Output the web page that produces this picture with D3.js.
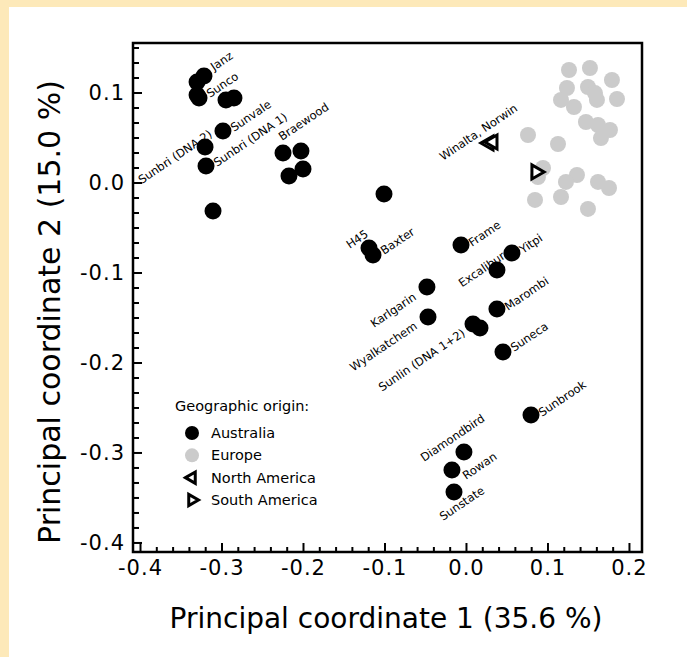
<!DOCTYPE html>
<html>
<head>
<meta charset="utf-8">
<script src="https://cdn.jsdelivr.net/npm/d3@7"></script>
<style>
  body { margin: 0; background: #fff; }
  svg { display: block; font-family: "DejaVu Sans", Verdana, sans-serif; }
</style>
</head>
<body>
<svg id="chart" width="687" height="657"></svg>
<script>
// Australian cultivars (name is "" when unlabelled)
const ausNames = ["Janz", "", "Sunco", "", "", "", "Sunvale", "Sunbri (DNA 2)", "Sunbri (DNA 1)", "",
  "Braewood", "", "", "", "", "H45", "Baxter", "Frame", "Yitpi", "Excalibur",
  "Karlgarin", "Wyalkatchem", "Sunlin (DNA 1+2)", "", "Marombi", "Suneca", "Sunbrook", "Diamondbird", "Rowan", "Sunstate"];
const ausX = [-0.3215, -0.330, -0.3276, -0.330, -0.2945, -0.2847, -0.2982, -0.3202, -0.319, -0.3104,
  -0.2245, -0.2025, -0.2172, -0.200, -0.1006, -0.119, -0.1141, -0.0061, 0.0564, 0.038,
  -0.0479, -0.0466, 0.0086, 0.0172, 0.038, 0.0454, 0.0798, -0.0025, -0.0172, -0.0147];
const ausY = [0.1183, 0.1117, 0.0939, 0.0972, 0.0917, 0.0939, 0.0572, 0.0394, 0.0183, -0.0317,
  0.0328, 0.035, 0.0072, 0.015, -0.0128, -0.0728, -0.0806, -0.0694, -0.0783, -0.0972,
  -0.1161, -0.1494, -0.1572, -0.1617, -0.1406, -0.1883, -0.2583, -0.2994, -0.3194, -0.3439];

const eurX = [0.1264, 0.1521, 0.1791, 0.1239, 0.1497, 0.1166, 0.1325, 0.1583, 0.1607, 0.1853,
  0.1472, 0.162, 0.1767, 0.1656, 0.0761, 0.1129, 0.0945, 0.0883, 0.1362, 0.1227,
  0.162, 0.1755, 0.0847, 0.1166, 0.1497];
const eurY = [0.125, 0.1272, 0.1139, 0.105, 0.1061, 0.0917, 0.0839, 0.0994, 0.0917, 0.0928,
  0.0672, 0.0639, 0.0583, 0.0494, 0.0528, 0.0428, 0.0161, 0.0061, 0.0083, 0.0006,
  0.0006, -0.0061, -0.0194, -0.0161, -0.0294];

const naNames = ["Winalta, Norwin", ""];
const naX = [0.0282, 0.0331];
const naY = [0.0439, 0.045];

const saX = [0.0859];
const saY = [0.0117];

const xTicks = [-0.4, -0.3, -0.2, -0.1, 0.0, 0.1, 0.2];
const yTicks = [0.1, 0.0, -0.1, -0.2, -0.3, -0.4];
const legendLabels = ["Australia", "Europe", "North America", "South America"];

// label placement: [dx, dy, anchor] from the point centre
const labelPos = {
  "Janz": [10, -5, "start"],
  "Sunco": [11, 0, "start"],
  "Sunvale": [11, 1, "start"],
  "Sunbri (DNA 2)": [8, -11, "end"],
  "Sunbri (DNA 1)": [11, 1, "start"],
  "Braewood": [-1, -12, "start"],
  "H45": [0, -12, "end"],
  "Baxter": [11, 0, "start"],
  "Frame": [11, 2, "start"],
  "Yitpi": [11, 1, "start"],
  "Excalibur": [9, -12, "end"],
  "Karlgarin": [-10, 12, "end"],
  "Wyalkatchem": [-10, 11, "end"],
  "Sunlin (DNA 1+2)": [-7, 11, "end"],
  "Marombi": [11, 2, "start"],
  "Suneca": [11, 0, "start"],
  "Sunbrook": [11, 2, "start"],
  "Diamondbird": [-40, 10, "start"],
  "Rowan": [14, 10, "start"],
  "Sunstate": [-11, 29, "start"],
  "Winalta, Norwin": [-46, 18, "start"]
};

const svg = d3.select('#chart');
svg.append('rect').attr('width', 687).attr('height', 657).attr('fill', '#fde9b9');
svg.append('rect').attr('x', 9).attr('y', 7).attr('width', 678).attr('height', 650).attr('fill', '#fff');

const x = d3.scaleLinear().domain([-0.4086, 0.216]).range([133, 642]);
const y = d3.scaleLinear().domain([0.155, -0.4106]).range([43, 552]);

const minorX = d3.range(-20, 11).map(i => i * 0.02).filter(v => xTicks.every(t => Math.abs(t - v) > 1e-6));
const minorY = d3.range(-24, 10).map(i => i / 60).filter(v => yTicks.every(t => Math.abs(t - v) > 1e-6));

const fmt = d => d3.format('.1f')(d).replace('−', '-');

// minor ticks
svg.append('g').attr('transform', 'translate(0,552)')
  .call(d3.axisBottom(x).tickValues(minorX).tickSize(-5).tickFormat(''))
  .call(g => g.select('.domain').remove())
  .selectAll('line').attr('stroke-width', 2);
svg.append('g').attr('transform', 'translate(133,0)')
  .call(d3.axisLeft(y).tickValues(minorY).tickSize(-6).tickFormat(''))
  .call(g => g.select('.domain').remove())
  .selectAll('line').attr('stroke-width', 2);

// major ticks + labels
const xAxis = svg.append('g').attr('transform', 'translate(0,552)')
  .call(d3.axisBottom(x).tickValues(xTicks).tickSize(-9).tickPadding(8).tickFormat(fmt));
xAxis.select('.domain').remove();
xAxis.selectAll('line').attr('stroke-width', 2);
xAxis.selectAll('text').attr('font-size', 21).attr('letter-spacing', 1).attr('font-family', '"DejaVu Sans", sans-serif');

const yAxis = svg.append('g').attr('transform', 'translate(133,0)')
  .call(d3.axisLeft(y).tickValues(yTicks).tickSize(-9).tickPadding(8).tickFormat(fmt));
yAxis.select('.domain').remove();
yAxis.selectAll('line').attr('stroke-width', 2);
yAxis.selectAll('text').attr('font-size', 21).attr('letter-spacing', 1).attr('font-family', '"DejaVu Sans", sans-serif');

// frame
svg.append('rect').attr('x', 133).attr('y', 43).attr('width', 509).attr('height', 509)
  .attr('fill', 'none').attr('stroke', '#000').attr('stroke-width', 2.5);

// points
const eur = eurX.map((v, i) => ({ x: v, y: eurY[i] }));
svg.append('g').selectAll('circle').data(eur).join('circle')
  .attr('cx', d => x(d.x)).attr('cy', d => y(d.y)).attr('r', 8).attr('fill', '#cbcbcb');

const aus = ausX.map((v, i) => ({ name: ausNames[i], x: v, y: ausY[i] }));
svg.append('g').selectAll('circle').data(aus).join('circle')
  .attr('cx', d => x(d.x)).attr('cy', d => y(d.y)).attr('r', 8.5).attr('fill', '#000');

const tri = d3.symbol().type(d3.symbolTriangle).size(85);
const na = naX.map((v, i) => ({ name: naNames[i], x: v, y: naY[i] }));
svg.append('g').selectAll('path').data(na).join('path')
  .attr('d', tri)
  .attr('transform', d => `translate(${x(d.x)},${y(d.y)}) rotate(-90)`)
  .attr('fill', '#fff').attr('stroke', '#000').attr('stroke-width', 3);

const sa = saX.map((v, i) => ({ x: v, y: saY[i] }));
svg.append('g').selectAll('path').data(sa).join('path')
  .attr('d', tri)
  .attr('transform', d => `translate(${x(d.x)},${y(d.y)}) rotate(90)`)
  .attr('fill', '#fff').attr('stroke', '#000').attr('stroke-width', 3);

// cultivar labels
const labelled = aus.concat(na).filter(d => d.name);
svg.append('g').selectAll('text').data(labelled).join('text')
  .attr('transform', d => {
    const p = labelPos[d.name];
    return `translate(${x(d.x) + p[0]},${y(d.y) + p[1]}) rotate(-34)`;
  })
  .attr('text-anchor', d => labelPos[d.name][2])
  .attr('font-size', 11.5)
  .text(d => d.name);

// legend
const legend = svg.append('g').attr('font-size', 14.5);
legend.append('text').attr('x', 175).attr('y', 411).text('Geographic origin:');
const ly = d3.scalePoint().domain(legendLabels).range([433, 500]);
legendLabels.forEach(name => {
  const cy = ly(name);
  if (name === 'Australia' || name === 'Europe') {
    legend.append('circle').attr('cx', 192).attr('cy', cy).attr('r', 7)
      .attr('fill', name === 'Australia' ? '#000' : '#cbcbcb');
  } else {
    legend.append('path').attr('d', d3.symbol().type(d3.symbolTriangle).size(55))
      .attr('transform', `translate(192,${cy}) rotate(${name === 'North America' ? -90 : 90})`)
      .attr('fill', '#fff').attr('stroke', '#000').attr('stroke-width', 3);
  }
  legend.append('text').attr('x', 211).attr('y', cy + 5).text(name);
});

// axis titles
svg.append('text').attr('x', 386).attr('y', 628).attr('text-anchor', 'middle')
  .attr('font-size', 28).text('Principal coordinate 1 (35.6 %)');
svg.append('text').attr('transform', 'translate(60,312) rotate(-90)').attr('text-anchor', 'middle')
  .attr('font-size', 30).text('Principal coordinate 2 (15.0 %)');
</script>
</body>
</html>
